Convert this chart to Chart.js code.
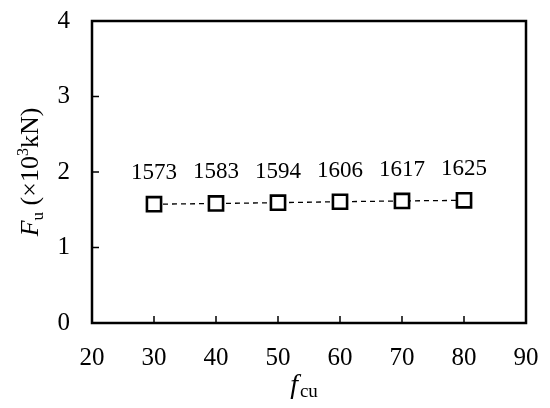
<!DOCTYPE html>
<html><head><meta charset="utf-8">
<script src="https://cdn.jsdelivr.net/npm/chart.js@4/dist/chart.umd.min.js"></script>
<style>html,body{margin:0;padding:0;background:#fff}#w{width:550px;height:408px}</style>
</head><body><div id="w"><canvas id="c" width="550" height="408"></canvas></div>
<script>
const fcu = [30, 40, 50, 60, 70, 80];
const Fu = [1573, 1583, 1594, 1606, 1617, 1625];
const xTicks = [20, 30, 40, 50, 60, 70, 80, 90];
const yTicks = [0, 1, 2, 3, 4];
const FONT = '"Liberation Serif", "Times New Roman", serif';

const deco = {
  id: 'deco',
  afterDatasetsDraw(chart) {
    const ctx = chart.ctx, a = chart.chartArea, xs = chart.scales.x, ys = chart.scales.y;
    ctx.save();
    ctx.strokeStyle = '#000';
    ctx.lineWidth = 1.5;
    ctx.beginPath();
    xTicks.forEach(v => { const px = xs.getPixelForValue(v); ctx.moveTo(px, a.bottom); ctx.lineTo(px, a.bottom - 7); });
    yTicks.forEach(v => { const py = ys.getPixelForValue(v); ctx.moveTo(a.left, py); ctx.lineTo(a.left + 7, py); });
    ctx.stroke();
    ctx.lineWidth = 2.5;
    ctx.strokeRect(a.left, a.top, a.right - a.left, a.bottom - a.top);
    // data labels
    ctx.fillStyle = '#000';
    ctx.font = '23px ' + FONT;
    ctx.textAlign = 'center';
    ctx.textBaseline = 'alphabetic';
    const meta = chart.getDatasetMeta(0);
    meta.data.forEach((p, i) => { ctx.fillText(String(Fu[i]), p.x, p.y - 25); });
    // x title
    ctx.textAlign = 'left';
    const xt = [['f', 'italic 28px ', 0], ['cu', '19px ', 4]];
    let tw = 0;
    xt.forEach(t => { ctx.font = t[1] + FONT; tw += ctx.measureText(t[0]).width; });
    let x0 = (a.left + a.right) / 2 - tw / 2 - 6;
    xt.forEach(t => { ctx.font = t[1] + FONT; ctx.fillText(t[0], x0, 393 + t[2]); x0 += ctx.measureText(t[0]).width + (t[0]==='f'?2:0); });
    // y title
    const yt = [['F', 'italic 26px ', 0], ['u', '17px ', 5], [' (\u00d710', '26px ', 0], ['3', '16px ', -10], ['kN)', '26px ', 0]];
    tw = 0;
    yt.forEach(t => { ctx.font = t[1] + FONT; tw += ctx.measureText(t[0]).width; });
    ctx.translate(38, (a.top + a.bottom) / 2);
    ctx.rotate(-Math.PI / 2);
    let y0 = -tw / 2;
    yt.forEach(t => { ctx.font = t[1] + FONT; ctx.fillText(t[0], y0, t[2]); y0 += ctx.measureText(t[0]).width; });
    ctx.restore();
  }
};

function zeroPad(s) { s.paddingTop = 0; s.paddingBottom = 0; s.paddingLeft = 0; s.paddingRight = 0; }

new Chart(document.getElementById('c'), {
  type: 'scatter',
  data: {
    datasets: [{
      data: fcu.map((v, i) => ({ x: v, y: Fu[i] / 1000 })),
      showLine: true,
      borderColor: '#000',
      borderWidth: 1.3,
      borderDash: [5, 4],
      pointStyle: 'rect',
      pointRadius: 10,
      pointBorderWidth: 2.6,
      pointBackgroundColor: '#fff',
      pointBorderColor: '#000'
    }]
  },
  options: {
    responsive: false,
    animation: false,
    devicePixelRatio: 1,
    layout: { padding: { top: 21, right: 24, left: 0, bottom: 0 } },
    plugins: { legend: { display: false }, tooltip: { enabled: false } },
    scales: {
      x: {
        type: 'linear', min: 20, max: 90,
        afterBuildTicks(s) { s.ticks = xTicks.map(v => ({ value: v })); },
        afterFit(s) { s.height = 85; zeroPad(s); },
        grid: { display: false, drawTicks: false },
        border: { display: false },
        ticks: { color: '#000', font: { family: FONT, size: 25 }, padding: 20, maxRotation: 0 }
      },
      y: {
        type: 'linear', min: 0, max: 4,
        afterBuildTicks(s) { s.ticks = yTicks.map(v => ({ value: v })); },
        afterFit(s) { s.width = 92; zeroPad(s); },
        grid: { display: false, drawTicks: false },
        border: { display: false },
        ticks: { color: '#000', font: { family: FONT, size: 25 }, padding: 22 }
      }
    }
  },
  plugins: [deco]
});
</script></body></html>
